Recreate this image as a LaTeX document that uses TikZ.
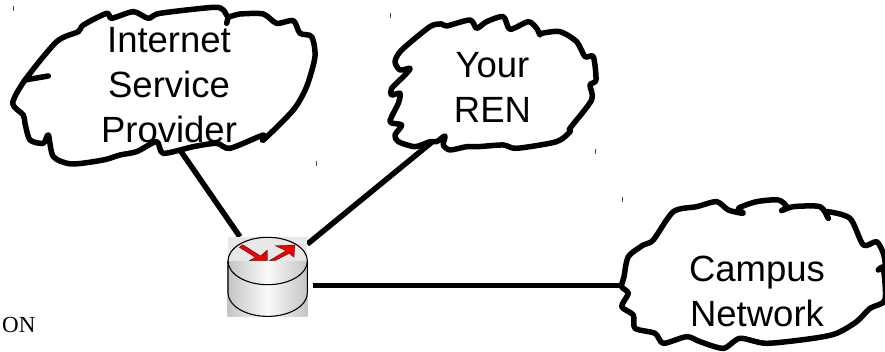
\documentclass[tikz,border=0pt]{standalone}
\usepackage{fontspec}
\setmainfont{Liberation Sans}
\newfontfamily\serifcut{Liberation Serif}
\usepackage{tikz}
\usetikzlibrary{positioning,calc}
\definecolor{routertop}{RGB}{232,232,232}
\definecolor{routerside}{RGB}{196,196,196}
\definecolor{routermid}{RGB}{250,250,250}
\definecolor{arrowred}{RGB}{240,0,0}
\tikzset{
  cloud line/.style={
    draw=black,
    line width=5.5pt,
    line join=round,
    line cap=round
  },
  cloud label/.style={
    align=center,
    inner sep=0pt,
    font=\fontsize{36.5}{45}\selectfont
  },
  link/.style={
    draw=black,
    line width=5.5pt
  },
  router box/.style={
    rectangle,
    minimum width=79.6pt,
    minimum height=80pt,
    inner sep=0pt,
    outer sep=0pt
  },
  router line/.style={
    draw=black,
    line width=1.1pt
  },
  router arrow/.style={
    fill=arrowred,
    draw=black,
    line width=0.2pt
  },
  tick mark/.style={
    draw=black!70,
    line width=0.8pt
  }
}

\begin{document}
\begin{tikzpicture}[x=1pt,y=-1pt]
  \useasboundingbox (0,0) rectangle (885,352);

  % Labels
  \node[cloud label] (isp) at (169,85) {Internet\\Service\\Provider};
  \node[cloud label] (ren) at (492.5,87) {Your\\REN};
  \node[cloud label] (campus) at (757,291) {Campus\\Network};
  \node[router box] (router) at (267.5,276.7) {};
  \node[font=\serifcut\fontsize{23}{23}\selectfont, inner sep=0pt, anchor=base west] (cut) at (2,332) {ON};

  % Connector ends
  \coordinate (ispedge) at (180,150);
  \coordinate (renedge) at (432,142);
  \coordinate (campusedge) at (623,285.5);
  \coordinate (routerout) at (313,285.5);

  % Links
  \draw[link] (ispedge) -- (router);
  \draw[link] (renedge) -- (router);
  \draw[link] (routerout) -- (campusedge);

  % ISP cloud
  \begin{scope}[x=0.3333pt,y=-0.3333pt]
    \draw[cloud line] plot[smooth cycle,tension=0.45] coordinates {(38,310) (75,240) (170,125) (235,95) (250,75) (320,40) (335,55) (400,35) (445,55) (480,40) (640,22) (670,30) (685,50) (720,42) (790,42) (830,70) (880,62) (900,100) (935,110) (945,170) (920,260) (880,330) (790,420) (790,405) (690,445) (650,430) (580,440) (490,460) (470,425) (410,455) (360,465) (310,480) (215,492) (160,470) (145,405) (130,430) (90,420) (75,370) (70,345)};
    \draw[cloud line] (75,240) -- (145,228);
    \draw[cloud line] (685,50) -- (680,70);
  \end{scope}

  % REN cloud
  \begin{scope}[shift={(340,0)},x=0.3333pt,y=-0.3333pt]
    \draw[cloud line] plot[smooth cycle,tension=0.45] coordinates {(165,185) (185,150) (270,80) (305,72) (320,78) (390,60) (410,85) (440,65) (490,50) (510,88) (565,65) (590,85) (600,105) (605,100) (660,95) (710,125) (735,170) (760,170) (768,240) (750,255) (755,300) (690,385) (690,395) (650,425) (530,445) (490,435) (415,440) (380,440) (330,450) (310,435) (315,408) (290,425) (270,425) (225,440) (175,425) (165,405) (185,375) (150,365) (175,310) (180,280) (155,285) (155,265) (195,225) (210,205) (180,210)};
  \end{scope}

  % Campus cloud
  \begin{scope}[shift={(600,190)},x=0.3333pt,y=-0.3333pt]
    \draw[cloud line] plot[smooth cycle,tension=0.45] coordinates {(72,260) (85,200) (130,165) (160,150) (220,65) (290,50) (350,35) (385,60) (430,70) (415,55) (470,35) (535,30) (560,50) (545,62) (580,50) (660,50) (685,85) (680,65) (750,85) (790,165) (830,155) (850,190) (855,225) (835,240) (850,235) (855,330) (810,355) (770,395) (710,430) (640,445) (500,460) (420,445) (370,475) (300,455) (260,440) (190,460) (165,430) (105,415) (100,375) (65,350) (85,310) (65,290)};
  \end{scope}

  % Router icon
  \fill[left color=routerside,right color=routerside,middle color=routermid] (router.west |- 0,261) rectangle (router.south east);
  \fill[routertop] (router.north west) rectangle (router.east |- 0,261);
  \draw[router line] (267.7,261) ellipse[x radius=39.7pt,y radius=23.7pt];
  \draw[router line] (228,261) -- (228,292.7) arc[start angle=180,end angle=360,x radius=39.7pt,y radius=23.7pt] -- (307.4,261);
  \begin{scope}[shift={(190,220)},x=0.3333pt,y=-0.3333pt]
    \fill[router arrow] (148,82) -- (158,74) -- (212,108) -- (232,90) -- (232,122) -- (178,122) -- (196,112) -- cycle;
    \fill[router arrow] (238,122) -- (288,92) -- (255,77) -- (315,75) -- (312,112) -- (298,100) -- (255,122) -- cycle;
  \end{scope}

  % Small specks
  \foreach \x/\y in {13/9, 316/164, 390/16, 595/152, 622/200} {
    \draw[tick mark] (\x,\y-2.5) -- (\x,\y+2.5);
  }
\end{tikzpicture}
\end{document}
